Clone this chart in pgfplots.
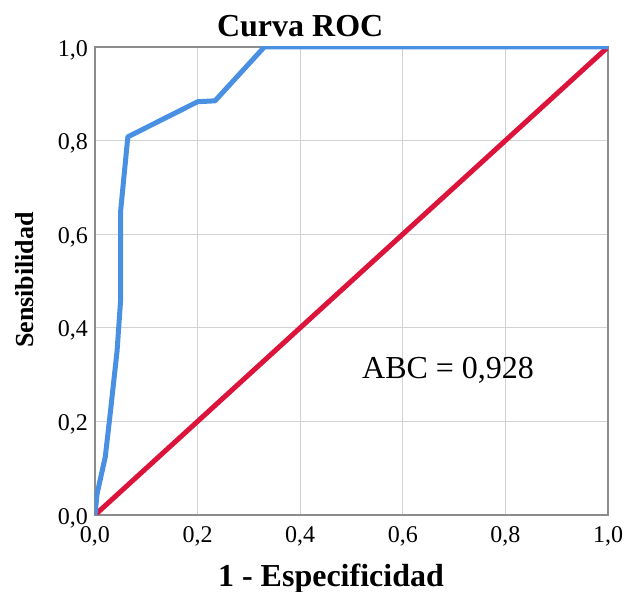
\documentclass[border=0pt]{standalone}
\usepackage{fontspec}
\setmainfont{Liberation Serif}
\usepackage{pgfplots}
\pgfplotsset{compat=1.18}
\definecolor{rocblue}{RGB}{74,144,226}
\definecolor{rocred}{RGB}{220,20,60}
\definecolor{gridgray}{RGB}{210,210,210}
\definecolor{axgray}{RGB}{140,140,140}
\begin{document}
\begin{tikzpicture}
\begin{axis}[
  scale only axis,
  width=256.5pt, height=234pt,
  xmin=0, xmax=1, ymin=0, ymax=1,
  xtick={0,0.2,0.4,0.6,0.8,1}, ytick={0,0.2,0.4,0.6,0.8,1},
  major tick length=0pt,
  grid=major,
  grid style={gridgray, line width=0.6pt},
  axis line style={axgray, line width=0.7pt},
  /pgf/number format/assume math mode=true,
  /pgf/number format/.cd, use comma, fixed, fixed zerofill, precision=1,
  /pgfplots/.cd,
  tick label style={font=\fontsize{12pt}{14pt}\selectfont},
  xticklabel style={yshift=-2pt},
  yticklabel style={yshift=-1.5pt},
  title={\textbf{Curva ROC}},
  title style={at={(axis description cs:0.40,1)}, anchor=south, yshift=-4.5pt, font=\fontsize{16pt}{18pt}\selectfont},
  xlabel={\textbf{1 - Especificidad}},
  xlabel style={at={(axis description cs:0.46,0)}, anchor=base, yshift=-36pt, font=\fontsize{16pt}{18pt}\selectfont},
  ylabel={\textbf{Sensibilidad}},
  ylabel style={at={(axis description cs:-0.138,0.502)}, anchor=center, rotate=0, font=\fontsize{13pt}{15pt}\selectfont},
]
\addplot[rocred, line width=2.5pt] coordinates {(0,0) (1,1)};
\addplot[rocblue, line width=2.5pt, line join=round] coordinates {
(0,0) (0.004,0.045) (0.02,0.124) (0.029,0.21) (0.043,0.35) (0.05,0.46)
(0.05,0.65) (0.064,0.808) (0.2,0.883) (0.234,0.885) (0.330,1) (1,1)};
\node[anchor=base west, font=\fontsize{16pt}{18pt}\selectfont] at (axis cs:0.507,0.292) {ABC = 0,928};
\end{axis}
\pgfresetboundingbox
\path (-47.5pt,-38.5pt) rectangle (266pt,257.5pt);
\end{tikzpicture}
\end{document}
